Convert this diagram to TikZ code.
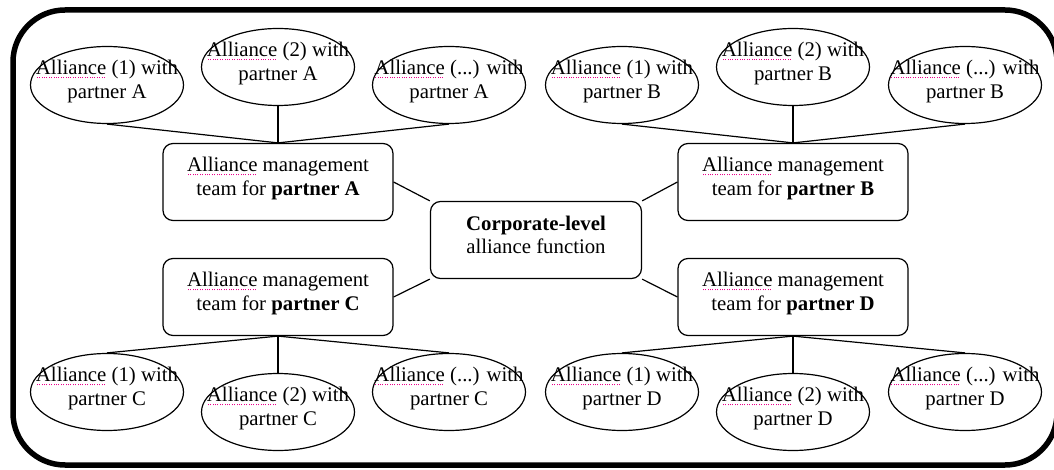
\documentclass[tikz,border=0pt]{standalone}
\usepackage{fontspec}
\setmainfont{Liberation Serif}
\usetikzlibrary{shapes.geometric}
\newcommand\spl[1]{\setbox0\hbox{#1}\rlap{\color{magenta}\raisebox{-3.5pt}{\hbox to \wd0{\leaders\hbox to 2.4pt{\hss\rule{0.9pt}{0.9pt}\hss}\hfill}}}#1}
\tikzset{
  txt/.style={font=\fontsize{20.8}{23.5}\selectfont, align=center, inner sep=0pt},
  ell/.style={draw, ellipse, line width=1.2pt, minimum width=153pt, minimum height=77pt, inner sep=0pt},
  tbox/.style={draw, rounded corners=10pt, line width=1.2pt, minimum width=230pt, minimum height=77pt, inner sep=0pt},
  ctrbox/.style={tbox, minimum width=211pt},
  link/.style={line width=1.2pt},
  frame/.style={line width=5.5pt, rounded corners=52pt}
}
\newcommand\alnode[4]{%
  \node[ell] (#1) at (#2) {};
  \node[txt, yshift=3.5pt] (#1t) at (#2) {\spl{Alliance} #3 with\\partner #4};
}
\newcommand\teambox[3]{%
  \node[tbox] (#1) at (#2) {};
  \node[txt, yshift=3.5pt] (#1t) at (#2) {\spl{Alliance} management\\team for \textbf{partner #3}};
}
\begin{document}
\begin{tikzpicture}[x=1pt,y=-1pt]
\useasboundingbox (0,0) rectangle (1054,470);
\begin{scope}
\clip (0,0) rectangle (1054,470);
\draw[frame] (13,10) rectangle (1057,465);
\end{scope}

% team boxes
\teambox{A}{278,182}{A}
\teambox{B}{793,182}{B}
\teambox{C}{278,297}{C}
\teambox{D}{793,297}{D}

% center
\node[ctrbox] (ctr) at (536,240) {};
\node[txt, yshift=5pt] (ctrt) at (536,240) {\textbf{Corporate-level}\\alliance function};

% ellipses
\alnode{a1}{107,85}{(1)}{A}
\alnode{a2}{278,67}{(2)}{A}
\alnode{a3}{449,85}{(...)}{A}
\alnode{b1}{622,85}{(1)}{B}
\alnode{b2}{793,67}{(2)}{B}
\alnode{b3}{965,85}{(...)}{B}
\alnode{c1}{107,392}{(1)}{C}
\alnode{c2}{278,412}{(2)}{C}
\alnode{c3}{449,392}{(...)}{C}
\alnode{d1}{622,392}{(1)}{D}
\alnode{d2}{793,412}{(2)}{D}
\alnode{d3}{965,392}{(...)}{D}

% connectors
\draw[link] (a1.south) -- (A.north);
\draw[link] (a2.south) -- (A.north);
\draw[link] (a3.south) -- (A.north);
\draw[link] (b1.south) -- (B.north);
\draw[link] (b2.south) -- (B.north);
\draw[link] (b3.south) -- (B.north);
\draw[link] (C.south) -- (c1.north);
\draw[link] (C.south) -- (c2.north);
\draw[link] (C.south) -- (c3.north);
\draw[link] (D.south) -- (d1.north);
\draw[link] (D.south) -- (d2.north);
\draw[link] (D.south) -- (d3.north);
\draw[link] (A.east) -- (ctr.north west);
\draw[link] (B.west) -- (ctr.north east);
\draw[link] (C.east) -- (ctr.south west);
\draw[link] (D.west) -- (ctr.south east);
\end{tikzpicture}
\end{document}
